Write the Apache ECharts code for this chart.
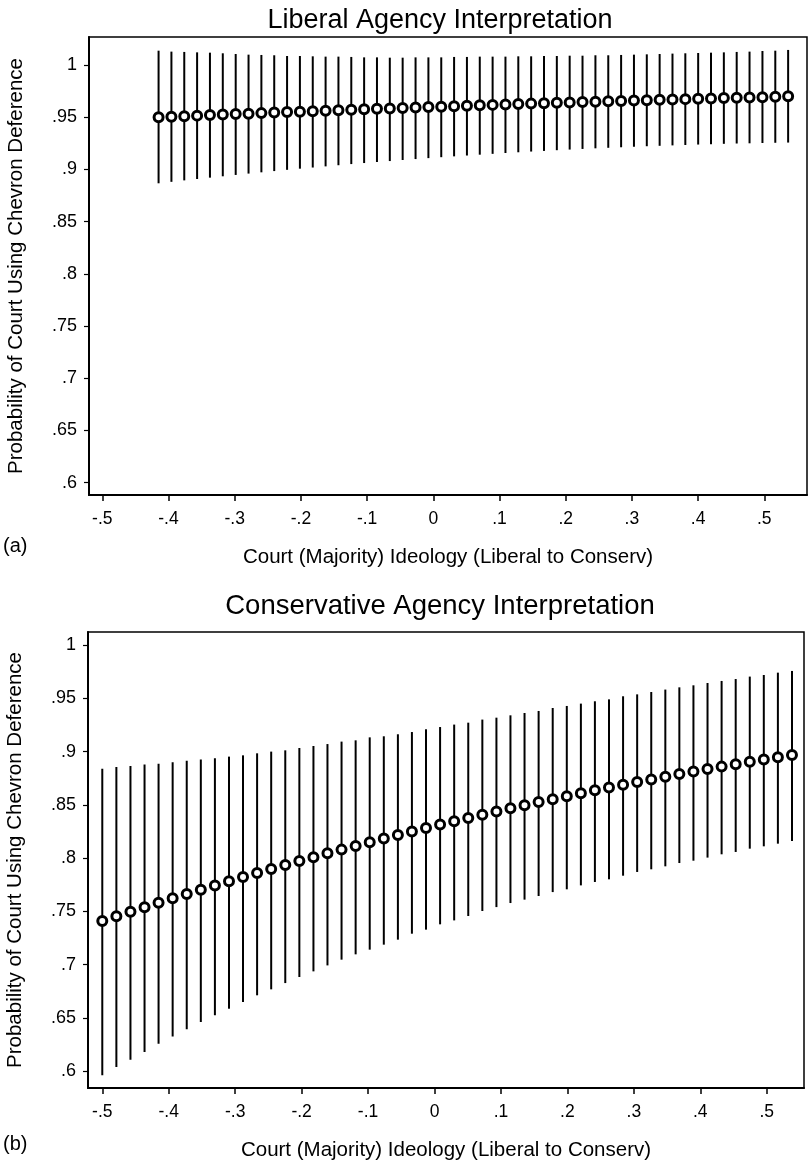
<!DOCTYPE html>
<html>
<head>
<meta charset="utf-8">
<script src="https://cdn.jsdelivr.net/npm/echarts@6/dist/echarts.min.js"></script>
<style>
html,body{margin:0;padding:0;background:#fff;}
#chart{width:808px;height:1162px;}
</style>
</head>
<body>
<div id="chart"></div>
<script>
// ---------- DATA ----------
const yTickValues = [0.6, 0.65, 0.7, 0.75, 0.8, 0.85, 0.9, 0.95, 1];
const xTickValues = [-0.5, -0.4, -0.3, -0.2, -0.1, 0, 0.1, 0.2, 0.3, 0.4, 0.5];

// Panel (a): Liberal Agency Interpretation
const libX = [-0.4150,-0.3956,-0.3762,-0.3568,-0.3374,-0.3180,-0.2985,-0.2791,-0.2597,-0.2403,
  -0.2209,-0.2015,-0.1821,-0.1627,-0.1433,-0.1239,-0.1045,-0.0851,-0.0657,-0.0463,
  -0.0268,-0.0074,0.0120,0.0314,0.0508,0.0702,0.0896,0.1090,0.1284,0.1478,
  0.1672,0.1866,0.2060,0.2254,0.2449,0.2643,0.2837,0.3031,0.3225,0.3419,
  0.3613,0.3807,0.4001,0.4195,0.4389,0.4583,0.4777,0.4972,0.5166,0.5360];
const libEst = [.9500,.9505,.9510,.9515,.9520,.9525,.9530,.9534,.9539,.9544,
  .9549,.9553,.9558,.9562,.9567,.9571,.9576,.9580,.9584,.9589,
  .9593,.9597,.9601,.9605,.9609,.9614,.9618,.9622,.9626,.9630,
  .9634,.9638,.9641,.9645,.9649,.9652,.9656,.9659,.9663,.9666,
  .9670,.9673,.9677,.9680,.9683,.9686,.9689,.9692,.9695,.9700];
const libLo = [.8867,.8881,.8895,.8908,.8921,.8934,.8947,.8960,.8972,.8984,
  .8996,.9007,.9018,.9029,.9040,.9051,.9061,.9071,.9080,.9090,
  .9099,.9108,.9117,.9125,.9133,.9141,.9149,.9157,.9164,.9171,
  .9177,.9184,.9190,.9196,.9202,.9207,.9212,.9217,.9222,.9226,
  .9230,.9234,.9238,.9241,.9245,.9248,.9250,.9253,.9255,.9257];
const libHi = [1.0137,1.0128,1.0125,1.0121,1.0118,1.0112,1.0105,1.0099,1.0096,1.0093,
  1.0086,1.0086,1.0083,1.0080,1.0080,1.0077,1.0073,1.0073,1.0070,1.0070,
  1.0073,1.0073,1.0073,1.0077,1.0077,1.0080,1.0080,1.0080,1.0083,1.0083,
  1.0086,1.0086,1.0089,1.0089,1.0093,1.0093,1.0096,1.0099,1.0102,1.0105,
  1.0109,1.0112,1.0115,1.0118,1.0121,1.0125,1.0128,1.0134,1.0137,1.0144];

// Panel (b): Conservative Agency Interpretation
const conX = [-0.5000,-0.4788,-0.4576,-0.4364,-0.4153,-0.3941,-0.3729,-0.3517,-0.3305,-0.3093,
  -0.2882,-0.2670,-0.2458,-0.2246,-0.2034,-0.1822,-0.1611,-0.1399,-0.1187,-0.0975,
  -0.0763,-0.0551,-0.0340,-0.0128,0.0084,0.0296,0.0508,0.0720,0.0932,0.1143,
  0.1355,0.1567,0.1779,0.1991,0.2203,0.2414,0.2626,0.2838,0.3050,0.3262,
  0.3474,0.3685,0.3897,0.4109,0.4321,0.4533,0.4745,0.4956,0.5168,0.5380];
const conEst = [.7410,.7453,.7496,.7539,.7581,.7622,.7663,.7704,.7743,.7783,
  .7822,.7860,.7898,.7935,.7973,.8009,.8045,.8080,.8115,.8150,
  .8184,.8218,.8250,.8283,.8315,.8347,.8378,.8408,.8439,.8468,
  .8498,.8527,.8554,.8582,.8610,.8637,.8663,.8690,.8715,.8740,
  .8765,.8790,.8814,.8837,.8860,.8883,.8906,.8927,.8948,.8970];
const conLo = [.5959,.6037,.6106,.6178,.6256,.6325,.6391,.6460,.6523,.6585,
  .6648,.6711,.6767,.6826,.6883,.6936,.6992,.7046,.7096,.7140,
  .7187,.7234,.7290,.7328,.7378,.7415,.7456,.7503,.7540,.7578,
  .7610,.7644,.7681,.7707,.7744,.7776,.7801,.7835,.7870,.7895,
  .7923,.7954,.7976,.8005,.8036,.8058,.8089,.8111,.8136,.8161];
const conHi = [.8841,.8856,.8866,.8879,.8888,.8900,.8916,.8926,.8938,.8954,
  .8966,.8985,.9001,.9013,.9035,.9054,.9072,.9095,.9107,.9135,
  .9145,.9164,.9185,.9211,.9232,.9255,.9273,.9302,.9320,.9342,
  .9364,.9383,.9411,.9430,.9452,.9474,.9492,.9521,.9539,.9561,
  .9584,.9605,.9624,.9646,.9665,.9683,.9706,.9721,.9743,.9759];

const titles = ['Liberal Agency Interpretation', 'Conservative Agency Interpretation'];
const yTitle = 'Probability of Court Using Chevron Deference';
const xTitle = 'Court (Majority) Ideology (Liberal to Conserv)';
const panelTags = ['(a)', '(b)'];

// ---------- CHART ----------
const FONT = '"Liberation Sans", Arial, Helvetica, sans-serif';
function fmt(v) {
  let s = String(+(+v).toFixed(2));
  return s.replace(/^0\./, '.').replace(/^-0\./, '-.');
}
function ciData(xs, lo, hi) { return xs.map((x, i) => [x, lo[i], hi[i]]); }
function ptData(xs, est) { return xs.map((x, i) => [x, est[i]]); }

const grids = [
  { left: 89, top: 37, width: 718, height: 458 },
  { left: 88, top: 632, width: 716, height: 456 }
];
const xRanges = [[-0.5201, 0.5645], [-0.5215, 0.5561]];
const yRanges = [[0.5882, 1.0268], [0.5840, 1.0125]];

function xAxis(i) {
  return {
    type: 'value', gridIndex: i, min: xRanges[i][0], max: xRanges[i][1],
    name: xTitle, nameLocation: 'middle', nameGap: 52,
    nameTextStyle: { fontFamily: FONT, fontSize: 20.5, color: '#000' },
    axisLine: { show: true, onZero: false, lineStyle: { color: '#000', width: 2 } },
    axisTick: { show: true, length: 6, lineStyle: { color: '#000', width: 1.5 }, customValues: xTickValues },
    axisLabel: { fontFamily: FONT, fontSize: 17.5, color: '#000', margin: 15, formatter: fmt, customValues: xTickValues },
    splitLine: { show: false }
  };
}
function yAxis(i) {
  return {
    type: 'value', gridIndex: i, min: yRanges[i][0], max: yRanges[i][1],
    name: yTitle, nameLocation: 'middle', nameGap: 62, nameRotate: 90,
    nameTextStyle: { fontFamily: FONT, fontSize: 20.5, color: '#000' },
    axisLine: { show: true, onZero: false, lineStyle: { color: '#000', width: 2 } },
    axisTick: { show: true, length: 5, lineStyle: { color: '#000', width: 1.2 }, customValues: yTickValues },
    axisLabel: { fontFamily: FONT, fontSize: 18, color: '#000', margin: 12, formatter: fmt, customValues: yTickValues },
    splitLine: { show: false }
  };
}

function ciSeries(i, data) {
  return {
    type: 'custom', xAxisIndex: i, yAxisIndex: i, data: data, silent: true,
    renderItem: function (params, api) {
      const p1 = api.coord([api.value(0), api.value(1)]);
      const p2 = api.coord([api.value(0), api.value(2)]);
      return { type: 'line', shape: { x1: p1[0], y1: p1[1], x2: p2[0], y2: p2[1] },
        style: { stroke: '#000', lineWidth: 2 } };
    },
    encode: { x: 0, y: [1, 2] }
  };
}
function ptSeries(i, data) {
  return {
    type: 'scatter', xAxisIndex: i, yAxisIndex: i, data: data, silent: true,
    symbol: 'circle', symbolSize: 9,
    itemStyle: { color: '#fff', borderColor: '#000', borderWidth: 3, opacity: 1 },
    z: 5
  };
}

const chart = echarts.init(document.getElementById('chart'), null, { renderer: 'canvas' });
chart.setOption({
  backgroundColor: '#fff',
  animation: false,
  title: [
    { text: titles[0], left: 435, top: 2, textAlign: 'center',
      textStyle: { fontFamily: FONT, fontSize: 27, fontWeight: 'normal', color: '#000' } },
    { text: titles[1], left: 435, top: 587, textAlign: 'center',
      textStyle: { fontFamily: FONT, fontSize: 27.5, fontWeight: 'normal', color: '#000' } }
  ],
  grid: grids.map(g => Object.assign({ show: true, borderColor: '#000', borderWidth: 1.5,
    backgroundColor: 'transparent', containLabel: false, outerBoundsMode: 'none' }, g)),
  xAxis: [xAxis(0), xAxis(1)],
  yAxis: [yAxis(0), yAxis(1)],
  graphic: [
    { type: 'text', left: 3, top: 536, style: { text: panelTags[0], font: '20px ' + FONT, fill: '#000' } },
    { type: 'text', left: 3, top: 1134, style: { text: panelTags[1], font: '20px ' + FONT, fill: '#000' } }
  ],
  series: [
    ciSeries(0, ciData(libX, libLo, libHi)),
    ptSeries(0, ptData(libX, libEst)),
    ciSeries(1, ciData(conX, conLo, conHi)),
    ptSeries(1, ptData(conX, conEst))
  ]
});
</script>
</body>
</html>
